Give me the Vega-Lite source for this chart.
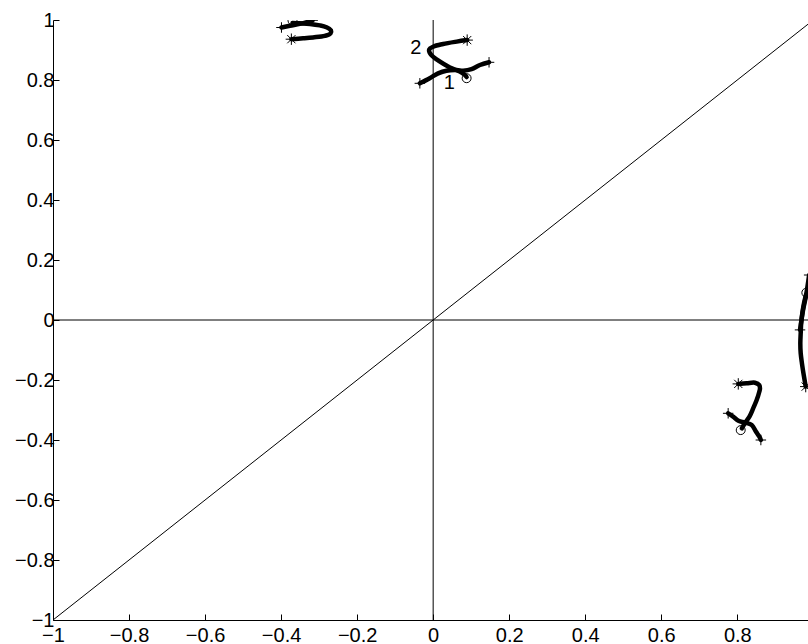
{
  "$schema": "https://vega.github.io/schema/vega-lite/v6.json",
  "autosize": {"type": "none"},
  "padding": {"left": 53, "top": 20, "right": 0, "bottom": 24},
  "width": 755,
  "height": 600,
  "background": "white",
  "config": {
    "view": {"stroke": null},
    "font": "Liberation Sans",
    "axis": {
      "grid": false,
      "domainColor": "black",
      "domainWidth": 1,
      "tickColor": "black",
      "tickWidth": 1,
      "tickSize": -6,
      "labelColor": "black",
      "labelFont": "Liberation Sans",
      "labelFontSize": 20,
      "title": null,
      "labelFlush": false,
      "labelOverlap": false
    }
  },
  "datasets": {
    "curves": [
      {"curve": "A1", "i": 0, "x": -0.399, "y": 0.975},
      {"curve": "A1", "i": 1, "x": -0.377, "y": 0.981},
      {"curve": "A1", "i": 2, "x": -0.351, "y": 0.987},
      {"curve": "A1", "i": 3, "x": -0.329, "y": 0.994},
      {"curve": "A1", "i": 4, "x": -0.317, "y": 0.999},
      {"curve": "A2", "i": 0, "x": -0.370, "y": 0.990},
      {"curve": "A2", "i": 1, "x": -0.351, "y": 0.989},
      {"curve": "A2", "i": 2, "x": -0.324, "y": 0.987},
      {"curve": "A2", "i": 3, "x": -0.298, "y": 0.982},
      {"curve": "A2", "i": 4, "x": -0.281, "y": 0.976},
      {"curve": "A2", "i": 5, "x": -0.269, "y": 0.966},
      {"curve": "A2", "i": 6, "x": -0.270, "y": 0.955},
      {"curve": "A2", "i": 7, "x": -0.285, "y": 0.947},
      {"curve": "A2", "i": 8, "x": -0.316, "y": 0.942},
      {"curve": "A2", "i": 9, "x": -0.342, "y": 0.939},
      {"curve": "A2", "i": 10, "x": -0.373, "y": 0.936},
      {"curve": "B1", "i": 0, "x": -0.035, "y": 0.789},
      {"curve": "B1", "i": 1, "x": -0.009, "y": 0.806},
      {"curve": "B1", "i": 2, "x": 0.013, "y": 0.822},
      {"curve": "B1", "i": 3, "x": 0.035, "y": 0.831},
      {"curve": "B1", "i": 4, "x": 0.062, "y": 0.833},
      {"curve": "B1", "i": 5, "x": 0.079, "y": 0.831},
      {"curve": "B1", "i": 6, "x": 0.101, "y": 0.836},
      {"curve": "B1", "i": 7, "x": 0.123, "y": 0.850},
      {"curve": "B1", "i": 8, "x": 0.147, "y": 0.859},
      {"curve": "B2", "i": 0, "x": 0.0895, "y": 0.933},
      {"curve": "B2", "i": 1, "x": 0.062, "y": 0.928},
      {"curve": "B2", "i": 2, "x": 0.026, "y": 0.920},
      {"curve": "B2", "i": 3, "x": 0.000, "y": 0.911},
      {"curve": "B2", "i": 4, "x": -0.0105, "y": 0.902},
      {"curve": "B2", "i": 5, "x": -0.007, "y": 0.887},
      {"curve": "B2", "i": 6, "x": 0.018, "y": 0.861},
      {"curve": "B2", "i": 7, "x": 0.044, "y": 0.842},
      {"curve": "B2", "i": 8, "x": 0.070, "y": 0.828},
      {"curve": "B2", "i": 9, "x": 0.083, "y": 0.817},
      {"curve": "B2", "i": 10, "x": 0.088, "y": 0.810},
      {"curve": "C1", "i": 0, "x": 0.989, "y": 0.150},
      {"curve": "C1", "i": 1, "x": 0.981, "y": 0.083},
      {"curve": "C1", "i": 2, "x": 0.973, "y": 0.033},
      {"curve": "C1", "i": 3, "x": 0.968, "y": -0.007},
      {"curve": "C1", "i": 4, "x": 0.965, "y": -0.033},
      {"curve": "C2", "i": 0, "x": 0.981, "y": 0.085},
      {"curve": "C2", "i": 1, "x": 0.9755, "y": 0.056},
      {"curve": "C2", "i": 2, "x": 0.971, "y": 0.022},
      {"curve": "C2", "i": 3, "x": 0.968, "y": -0.011},
      {"curve": "C2", "i": 4, "x": 0.9668, "y": -0.044},
      {"curve": "C2", "i": 5, "x": 0.9658, "y": -0.078},
      {"curve": "C2", "i": 6, "x": 0.9668, "y": -0.111},
      {"curve": "C2", "i": 7, "x": 0.970, "y": -0.144},
      {"curve": "C2", "i": 8, "x": 0.9755, "y": -0.189},
      {"curve": "C2", "i": 9, "x": 0.980, "y": -0.222},
      {"curve": "D1", "i": 0, "x": 0.776, "y": -0.311},
      {"curve": "D1", "i": 1, "x": 0.789, "y": -0.322},
      {"curve": "D1", "i": 2, "x": 0.803, "y": -0.336},
      {"curve": "D1", "i": 3, "x": 0.820, "y": -0.342},
      {"curve": "D1", "i": 4, "x": 0.838, "y": -0.350},
      {"curve": "D1", "i": 5, "x": 0.849, "y": -0.372},
      {"curve": "D1", "i": 6, "x": 0.858, "y": -0.389},
      {"curve": "D1", "i": 7, "x": 0.862, "y": -0.400},
      {"curve": "D2", "i": 0, "x": 0.8026, "y": -0.213},
      {"curve": "D2", "i": 1, "x": 0.8247, "y": -0.211},
      {"curve": "D2", "i": 2, "x": 0.8466, "y": -0.209},
      {"curve": "D2", "i": 3, "x": 0.8579, "y": -0.217},
      {"curve": "D2", "i": 4, "x": 0.8597, "y": -0.228},
      {"curve": "D2", "i": 5, "x": 0.8579, "y": -0.239},
      {"curve": "D2", "i": 6, "x": 0.851, "y": -0.267},
      {"curve": "D2", "i": 7, "x": 0.842, "y": -0.294},
      {"curve": "D2", "i": 8, "x": 0.832, "y": -0.322},
      {"curve": "D2", "i": 9, "x": 0.820, "y": -0.344},
      {"curve": "D2", "i": 10, "x": 0.812, "y": -0.361}
    ],
    "markers": [
      {"m": "plus", "x": -0.399, "y": 0.975},
      {"m": "plus", "x": -0.317, "y": 0.999},
      {"m": "circle", "x": -0.370, "y": 0.998},
      {"m": "star", "x": -0.373, "y": 0.936},
      {"m": "plus", "x": -0.035, "y": 0.789},
      {"m": "plus", "x": 0.147, "y": 0.859},
      {"m": "star", "x": 0.0895, "y": 0.933},
      {"m": "circle", "x": 0.088, "y": 0.806},
      {"m": "plus", "x": 0.989, "y": 0.150},
      {"m": "plus", "x": 0.965, "y": -0.033},
      {"m": "circle", "x": 0.9816, "y": 0.091},
      {"m": "star", "x": 0.980, "y": -0.222},
      {"m": "plus", "x": 0.776, "y": -0.311},
      {"m": "plus", "x": 0.862, "y": -0.400},
      {"m": "star", "x": 0.8026, "y": -0.213},
      {"m": "circle", "x": 0.809, "y": -0.367}
    ],
    "labels": [
      {"t": "2", "x": -0.0455, "y": 0.906},
      {"t": "1", "x": 0.0424, "y": 0.791}
    ],
    "refs": [
      {"x": -1, "y": 0, "x2": 1, "y2": 0},
      {"x": 0, "y": -1, "x2": 0, "y2": 1},
      {"x": -1, "y": -1, "x2": 1, "y2": 1}
    ]
  },
  "encoding": {
    "x": {"field": "x", "type": "quantitative",
      "scale": {"domain": [-1, 0.986], "nice": false, "zero": false},
      "axis": {"values": [-1, -0.8, -0.6, -0.4, -0.2, 0, 0.2, 0.4, 0.6, 0.8], "format": "~g", "labelPadding": 11, "labelFontSize": 20}},
    "y": {"field": "y", "type": "quantitative",
      "scale": {"domain": [-1, 1], "nice": false, "zero": false},
      "axis": {"values": [-1, -0.8, -0.6, -0.4, -0.2, 0, 0.2, 0.4, 0.6, 0.8, 1], "format": "~g", "labelPadding": 5, "labelFontSize": 20}}
  },
  "layer": [
    {
      "data": {"name": "refs"},
      "mark": {"type": "rule", "color": "black", "strokeWidth": 1, "clip": true},
      "encoding": {
        "x2": {"field": "x2"},
        "y2": {"field": "y2"}
      }
    },
    {
      "data": {"name": "curves"},
      "mark": {"type": "line", "color": "black", "strokeWidth": 4.5, "strokeCap": "round", "strokeJoin": "round", "clip": true, "interpolate": "catmull-rom"},
      "encoding": {
        "detail": {"field": "curve"},
        "order": {"field": "i", "type": "quantitative"}
      }
    },
    {
      "data": {"name": "markers"},
      "transform": [{"filter": "datum.m === 'plus'"}],
      "mark": {"type": "point", "shape": "M-1,0L1,0M0,-1L0,1", "size": 110, "filled": false, "stroke": "black", "strokeWidth": 1, "clip": true, "opacity": 1}
    },
    {
      "data": {"name": "markers"},
      "transform": [{"filter": "datum.m === 'star'"}],
      "mark": {"type": "point", "shape": "M-1,0L1,0M0,-1L0,1M-0.72,-0.72L0.72,0.72M-0.72,0.72L0.72,-0.72", "size": 130, "filled": false, "stroke": "black", "strokeWidth": 1, "clip": true, "opacity": 1}
    },
    {
      "data": {"name": "markers"},
      "transform": [{"filter": "datum.m === 'circle'"}],
      "mark": {"type": "point", "shape": "circle", "size": 80, "filled": false, "stroke": "black", "strokeWidth": 1, "clip": true, "opacity": 1}
    },
    {
      "data": {"name": "labels"},
      "mark": {"type": "text", "font": "Liberation Sans", "fontSize": 20, "color": "black", "align": "center", "baseline": "middle"},
      "encoding": {"text": {"field": "t"}}
    }
  ]
}
